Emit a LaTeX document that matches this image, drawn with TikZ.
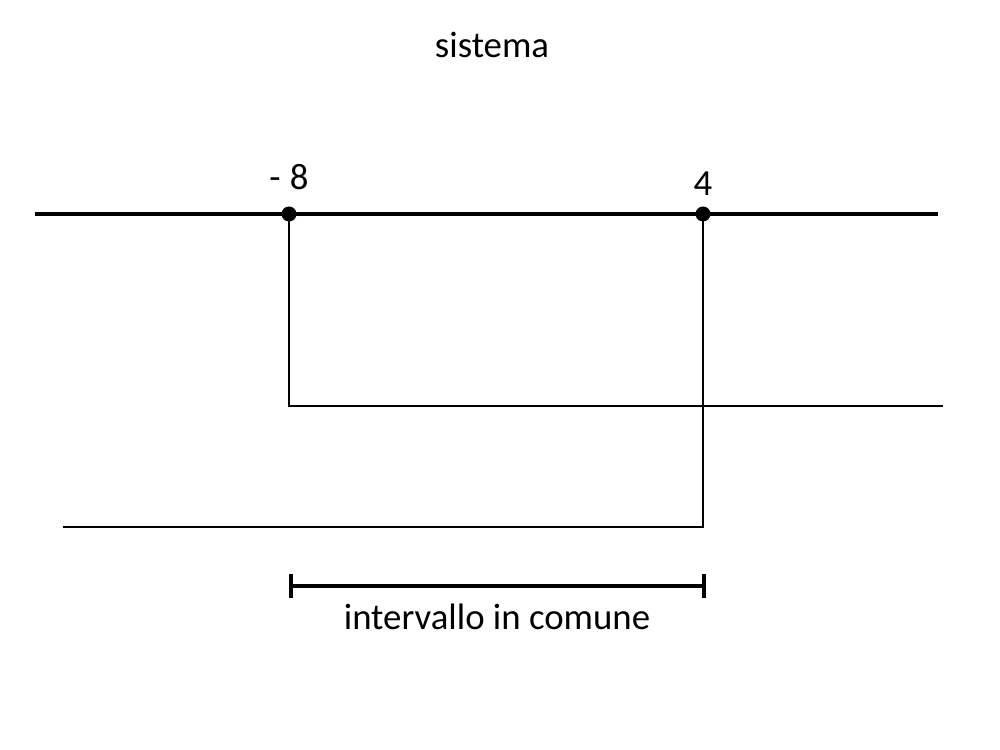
\documentclass[tikz,border=0pt]{standalone}
\usepackage{fontspec}
\setmainfont{Carlito}
\usetikzlibrary{positioning,arrows.meta}

\begin{document}
\begin{tikzpicture}[x=0.72pt,y=-0.72pt,every node/.style={font=\fontsize{26.5}{30}\selectfont},
  dot/.style={circle,fill,inner sep=0pt,minimum size=10.8pt},
  axis/.style={line width=3pt},
  thin/.style={line width=1.4pt}]
\useasboundingbox (0,0) rectangle (1000,750);
\node (title) at (492,45) {sistema};
\coordinate (left) at (35,214);
\coordinate (right) at (938,214);
\draw[axis] (left)--(right);
\node[dot] (a) at (289,214) {};
\node[dot] (b) at (703,214) {};
\node[above=8pt of a] (la) {-\hspace{0.25em}8};
\node[above=4.5pt of b] (lb) {4};
\coordinate (ra) at (943,406);
\coordinate (lbend) at (63,527);
\draw[thin] (a.center)|-(ra);
\draw[thin] (b.center)|-(lbend);
\coordinate (i1) at (289,586);
\coordinate (i2) at (706,586);
\draw[axis,{Bar[width=17pt]}-{Bar[width=17pt]}] (i1)--(i2);
\node (common) at (497,617) {intervallo in comune};
\end{tikzpicture}
\end{document}
